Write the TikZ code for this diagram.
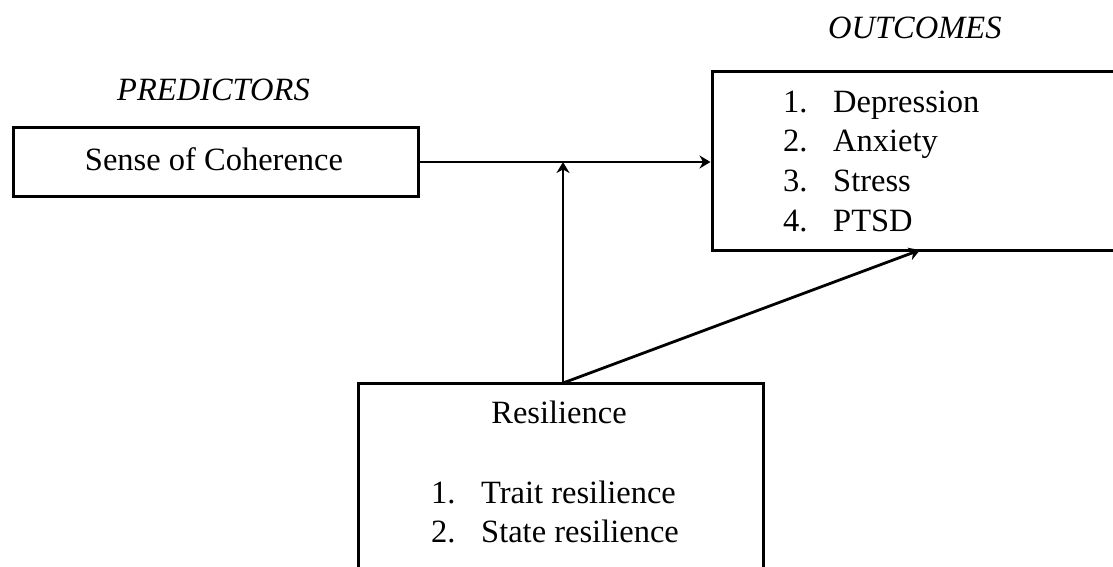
\documentclass[tikz,border=0pt]{standalone}
\usepackage{fontspec}
\setmainfont{Liberation Serif}
\usetikzlibrary{arrows.meta,calc}
\begin{document}
\begin{tikzpicture}[x=1pt,y=-1pt,
  box/.style={draw,line width=3pt,rectangle,inner sep=0pt},
  conn/.style={line width=2.8pt,-{Stealth[length=11pt,width=13pt]}},
  txt/.style={inner sep=0pt,anchor=base west,font=\fontsize{32.5}{39}\selectfont},
  ttl/.style={txt,font=\fontsize{32.5}{39}\selectfont\itshape}]
\useasboundingbox (0,0) rectangle (1113,566);
\fill[white] (0,0) rectangle (1113,566);
\begin{scope}
\clip (0,0) rectangle (1113,566);
% boxes
\node[box,minimum width=405pt,minimum height=69pt] (soc) at (215.5,161.5) {};
\node[box,minimum width=413pt,minimum height=179pt] (out) at (918.5,160.5) {};
\node[box,minimum width=405pt,minimum height=190pt] (res) at (560.5,478) {};
% titles
\node[ttl] (pred) at (117,100) {PREDICTORS};
\node[ttl] (outc) at (828,38) {OUTCOMES};
% texts
\node[txt,anchor=base] (soct) at (214,170) {Sense of Coherence};
\node[txt] (o1n) at (783,112) {1.};
\node[txt] (o1) at (833,112) {Depression};
\node[txt] (o2n) at (783,151.5) {2.};
\node[txt] (o2) at (833,151.5) {Anxiety};
\node[txt] (o3n) at (783,191) {3.};
\node[txt] (o3) at (833,191) {Stress};
\node[txt] (o4n) at (783,231) {4.};
\node[txt] (o4) at (833,231) {PTSD};
\node[txt,anchor=base] (rest) at (559,423) {Resilience};
\node[txt] (r1n) at (431,503) {1.};
\node[txt] (r1) at (481,503) {Trait resilience};
\node[txt] (r2n) at (431,542) {2.};
\node[txt] (r2) at (481,542) {State resilience};
% connectors
\coordinate (mid) at (563,162);
\coordinate (rtop) at (563,383);
\coordinate (dtip) at (920,250);
\draw[conn] (soc.east |- mid) -- (out.west |- mid);
\draw[conn] (rtop) -- (mid);
\draw[conn] (rtop) -- (dtip);
\end{scope}
\end{tikzpicture}
\end{document}
